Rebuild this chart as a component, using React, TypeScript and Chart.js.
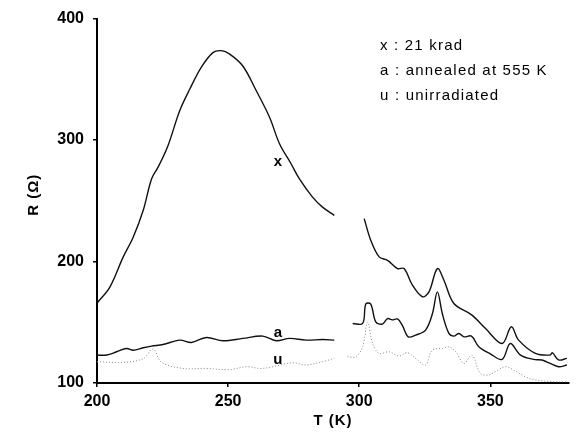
import React, { useEffect, useRef } from "react";
import { Chart, registerables } from "chart.js";

Chart.register(...registerables);

// ---- data (T in K, R in Ohm) ----
const xT1 = [200, 204.9, 210, 213.8, 217.6, 220.8, 223.3, 227.1, 231.5, 235.4, 239.8, 244.2, 247.4, 250.6, 255.6, 260.7, 265.8, 269.6, 274, 277.2, 282.2, 286, 290.5];
const xR1 = [165.7, 178.9, 203.8, 220, 242, 268, 277.7, 295.6, 324, 342, 360, 372, 373.6, 370.8, 361, 340.8, 318.8, 297, 280.5, 268, 253, 244.8, 238];
const xT2 = [301.9, 304.4, 307.6, 310.8, 314.6, 317.1, 320.3, 324.1, 326.6, 329.8, 332.3, 336.1, 343, 348.1, 354.5, 358, 360.8, 367.2, 372.8, 373.7, 376, 379.2];
const xR2 = [235.3, 217.5, 203.8, 201, 194.2, 194.2, 180.5, 171, 175, 194.2, 184.6, 165.4, 155.9, 145, 132.5, 146.3, 135.3, 124.4, 123, 124.9, 119, 120.3];

const aT1 = [200, 203.7, 207.5, 211.3, 213.8, 217.6, 220.8, 225.2, 231.6, 236, 241.7, 248, 255.6, 263.2, 268.3, 273.4, 279.7, 286, 290.5];
const aR1 = [123, 123, 125.7, 128.4, 127, 129, 130.4, 131.7, 135.3, 133.4, 137.5, 134.8, 136.7, 138.6, 134.8, 136.7, 135.3, 135.8, 135.3];
const aT2 = [297.5, 301.3, 302.5, 304.4, 306.3, 308.8, 310.8, 312.6, 314.6, 316.4, 318.7, 321.5, 325.3, 327.9, 329.8, 331.7, 334.2, 336.1, 338, 339.9, 342.8, 345.6, 350, 354.5, 357.6, 361.5, 366.5, 369.7, 372.8, 376, 379.2];
const aR2 = [149, 149, 165, 165, 150.4, 148.5, 153, 152, 152.7, 147.6, 138, 139.4, 143.5, 157, 175, 157, 140.8, 138.6, 140.8, 138, 138.6, 129.8, 124, 119.4, 132.5, 123, 119.4, 118.9, 116.1, 113.4, 114.8];

const uT1 = [200, 210, 217.6, 221.4, 224.6, 232.8, 241.7, 250.6, 256.9, 263.2, 274.6, 279.7, 286, 290.5];
const uR1 = [117.5, 117, 120, 128, 117, 112, 112, 111, 113.4, 112, 116.7, 114.8, 117.5, 120.3];
const uT2 = [295.5, 298.7, 301.3, 303.2, 305.1, 307.6, 311.4, 315.2, 318.4, 322.2, 325.3, 327.9, 331.7, 334.2, 336.8, 339.9, 343, 346.2, 349.4, 351.9, 355.7, 358.9, 363.3, 367.2, 374.8, 379.2];
const uR2 = [121.6, 121.6, 129.8, 150, 132.5, 124.4, 125.7, 122.2, 124.9, 119, 114.8, 127.1, 128.4, 129.8, 125.7, 116.1, 123, 107.9, 106.6, 109.3, 113.4, 110.7, 105.2, 102.5, 101, 101];

const xTicks = [200, 250, 300, 350];
const yTicks = [100, 200, 300, 400];
const xTitle = "T (K)";
const yTitle = "R (\u03A9)";
const legendLines = ["x : 21 krad", "a : annealed at 555 K", "u : unirradiated"];
// curve labels: text, T, R
const curveLabels: [string, number, number][] = [
  ["x", 269, 282],
  ["a", 269, 141],
  ["u", 269, 119],
];

const FONT = "'Liberation Sans', Arial, sans-serif";

function pts(T: number[], R: number[]) {
  return T.map((t, i) => ({ x: t, y: R[i] }));
}
function joined(T1: number[], R1: number[], T2: number[], R2: number[]) {
  const gapT = (T1[T1.length - 1] + T2[0]) / 2;
  return [...pts(T1, R1), { x: gapT, y: null as any }, ...pts(T2, R2)];
}

const textPlugin = {
  id: "texts",
  afterDraw(chart: any) {
    const ctx = chart.ctx as CanvasRenderingContext2D;
    const { chartArea, scales } = chart;
    ctx.save();
    ctx.fillStyle = "#000";
    (ctx as any).letterSpacing = "1px";
    // x title
    ctx.font = `bold 15px ${FONT}`;
    ctx.textAlign = "center";
    ctx.textBaseline = "middle";
    ctx.fillText(xTitle, (chartArea.left + chartArea.right) / 2, chartArea.bottom + 38);
    // y title
    ctx.save();
    ctx.translate(34, (chartArea.top + chartArea.bottom) / 2 - 6);
    ctx.rotate(-Math.PI / 2);
    ctx.fillText(yTitle, 0, 0);
    ctx.restore();
    // legend
    (ctx as any).letterSpacing = "1.2px";
    ctx.font = `15px ${FONT}`;
    ctx.textAlign = "left";
    ctx.textBaseline = "alphabetic";
    legendLines.forEach((s, i) => {
      ctx.fillText(s, 380, 50 + i * 25);
    });
    // curve labels
    (ctx as any).letterSpacing = "0px";
    ctx.font = `bold 15px ${FONT}`;
    ctx.textAlign = "center";
    ctx.textBaseline = "middle";
    curveLabels.forEach(([s, t, r]) => {
      ctx.fillText(s, scales.x.getPixelForValue(t), scales.y.getPixelForValue(r));
    });
    ctx.restore();
  },
};

export default function App() {
  const ref = useRef<HTMLCanvasElement>(null);
  useEffect(() => {
    const canvas = ref.current!;
    const tickFont = { family: FONT, size: 16, weight: "bold" as const };
    const chart = new Chart(canvas, {
      type: "line",
      data: {
        datasets: [
          {
            label: "x",
            data: joined(xT1, xR1, xT2, xR2),
            borderColor: "#111",
            borderWidth: 1.4,
            pointRadius: 0,
            tension: 0.35,
            spanGaps: false,
          },
          {
            label: "a",
            data: joined(aT1, aR1, aT2, aR2),
            borderColor: "#111",
            borderWidth: 1.4,
            pointRadius: 0,
            tension: 0.35,
            spanGaps: false,
          },
          {
            label: "u",
            data: joined(uT1, uR1, uT2, uR2),
            borderColor: "#888",
            borderWidth: 1,
            borderDash: [1, 2],
            pointRadius: 0,
            tension: 0.35,
            spanGaps: false,
          },
        ],
      },
      options: {
        responsive: false,
        animation: false,
        events: [],
        layout: { padding: { top: 18, right: 13, left: 0, bottom: 0 } },
        plugins: { legend: { display: false }, tooltip: { enabled: false } },
        scales: {
          x: {
            type: "linear",
            min: 200,
            max: 380,
            afterBuildTicks: (s: any) => {
              s.ticks = xTicks.map((v) => ({ value: v }));
            },
            afterFit: (s: any) => {
              s.height = 55;
            },
            grid: { drawOnChartArea: false, drawTicks: true, tickLength: 4, color: "#000", lineWidth: 1.5 },
            border: { color: "#000", width: 2 },
            ticks: { color: "#000", font: tickFont, padding: 5, maxRotation: 0, autoSkip: false },
          },
          y: {
            type: "linear",
            min: 100,
            max: 400,
            afterBuildTicks: (s: any) => {
              s.ticks = yTicks.map((v) => ({ value: v }));
            },
            afterFit: (s: any) => {
              s.width = 97;
            },
            grid: { drawOnChartArea: false, drawTicks: true, tickLength: 4, color: "#000", lineWidth: 1.5 },
            border: { color: "#000", width: 2 },
            ticks: { color: "#000", font: tickFont, padding: 9 },
          },
        },
      },
      plugins: [textPlugin],
    });
    return () => chart.destroy();
  }, []);
  return (
    <div style={{ position: "absolute", left: 0, top: 0, width: 582, height: 438, background: "#fff" }}>
      <canvas ref={ref} width={582} height={438} style={{ width: 582, height: 438 }} />
    </div>
  );
}
